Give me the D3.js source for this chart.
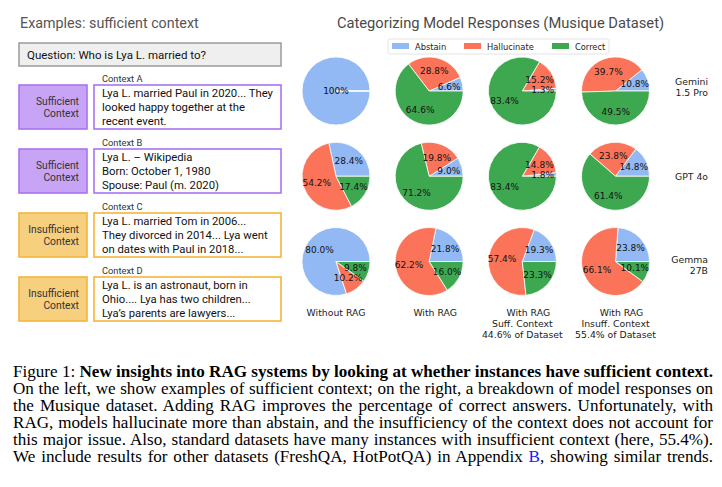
<!DOCTYPE html>
<meta charset="utf-8">
<script src="https://d3js.org/d3.v7.min.js"></script>
<style>
  body { margin: 0; background: #fff; }
</style>
<div id="my_dataviz"></div>
<script>

// pie data: [Abstain, Hallucinate, Correct] per column
var categories = ["Abstain", "Hallucinate", "Correct"];
var colors = ["#92b9f4", "#fb7459", "#3ea851"];
var columns = ["Without RAG", "With RAG", "With RAG\nSuff. Context\n44.6% of Dataset", "With RAG\nInsuff. Context\n55.4% of Dataset"];
var models = ["Gemini\n1.5 Pro", "GPT 4o", "Gemma\n27B"];

var gemini = [[100, 0, 0], [6.6, 28.8, 64.6], [1.3, 15.2, 83.4], [10.8, 39.7, 49.5]];
var gpt4o  = [[28.4, 54.2, 17.4], [9.0, 19.8, 71.2], [1.8, 14.8, 83.4], [14.8, 23.8, 61.4]];
var gemma  = [[80.0, 10.2, 9.8], [21.8, 62.2, 16.0], [19.3, 57.4, 23.3], [23.8, 66.1, 10.1]];
var seriesByModel = [gemini, gpt4o, gemma];

// left panel examples
var question = "Question: Who is Lya L. married to?";
var contextNames = ["Context A", "Context B", "Context C", "Context D"];
var contextKinds = ["Sufficient", "Sufficient", "Insufficient", "Insufficient"];
var contextLines = [
  ["Lya L. married Paul in 2020... They", "looked happy together at the", "recent event."],
  ["Lya L. \u2013 Wikipedia", "Born: October 1, 1980", "Spouse: Paul (m. 2020)"],
  ["Lya L. married Tom in 2006...", "They divorced in 2014... Lya went", "on dates with Paul in 2018..."],
  ["Lya L. is an astronaut, born in", "Ohio.... Lya has two children...", "Lya\u2019s parents are lawyers..."]
];

var captionLines = [
  [["Figure 1: ", false], ["New insights into RAG systems by looking at whether instances have sufficient context.", true]],
  [["On the left, we show examples of sufficient context; on the right, a breakdown of model responses on", false]],
  [["the Musique dataset. Adding RAG improves the percentage of correct answers. Unfortunately, with", false]],
  [["RAG, models hallucinate more than abstain, and the insufficiency of the context does not account for", false]],
  [["this major issue. Also, standard datasets have many instances with insufficient context (here, 55.4%).", false]],
  [["We include results for other datasets (FreshQA, HotPotQA) in Appendix ", false], ["B", false, "#1a1aff"], [", showing similar trends.", false]]
];

var W = 722, H = 487;
var svg = d3.select("#my_dataviz").append("svg")
  .attr("width", W).attr("height", H);

var sans = "Roboto, 'Open Sans', sans-serif";
var mpl = "'DejaVu Sans', sans-serif";

// ---------- left panel ----------
var left = svg.append("g");
left.append("text")
  .attr("x", 20).attr("y", 28)
  .style("font-family", sans).style("font-size", "14.3px").style("fill", "#555")
  .text("Examples: sufficient context");

left.append("rect")
  .attr("x", 19).attr("y", 43).attr("width", 262).attr("height", 23)
  .attr("fill", "#efefef").attr("stroke", "#9a9a9a").attr("stroke-width", 1.5);
left.append("text")
  .attr("x", 27).attr("y", 58.5)
  .style("font-family", sans).style("font-size", "11.5px").style("fill", "#111")
  .text(question);

var kindFill = { "Sufficient": "#c8a4f6", "Insufficient": "#f6cf7f" };
var kindStroke = { "Sufficient": "#a974f0", "Insufficient": "#f3b63a" };

var ctx = left.selectAll("g.ctx")
  .data(contextNames)
  .enter().append("g")
  .attr("class", "ctx")
  .attr("transform", function(d, i) { return "translate(0," + (85 + i * 64) + ")"; });

ctx.append("text")
  .attr("x", 102).attr("y", -3)
  .style("font-family", sans).style("font-size", "9.3px").style("fill", "#333")
  .text(function(d) { return d; });

ctx.append("rect")
  .attr("x", 19).attr("y", 0).attr("width", 68).attr("height", 44)
  .attr("fill", function(d, i) { return kindFill[contextKinds[i]]; })
  .attr("stroke", function(d, i) { return kindStroke[contextKinds[i]]; })
  .attr("stroke-width", 1.6);

ctx.append("text")
  .attr("text-anchor", "end")
  .style("font-family", sans).style("font-size", "10.3px").style("fill", "#333")
  .selectAll("tspan")
  .data(function(d, i) { return [contextKinds[i], "Context"]; })
  .enter().append("tspan")
  .attr("x", 79)
  .attr("y", function(d, j) { return 19.5 + j * 12; })
  .text(function(d) { return d; });

ctx.append("rect")
  .attr("x", 94).attr("y", 0).attr("width", 187).attr("height", 44)
  .attr("fill", "#fff")
  .attr("stroke", function(d, i) { return kindStroke[contextKinds[i]]; })
  .attr("stroke-width", 1.6);

ctx.append("text")
  .style("font-family", sans).style("font-size", "11.3px").style("fill", "#111")
  .selectAll("tspan")
  .data(function(d, i) { return contextLines[i]; })
  .enter().append("tspan")
  .attr("x", 102)
  .attr("y", function(d, j) { return 12 + j * 14; })
  .text(function(d) { return d; });

// ---------- right panel: pies ----------
var right = svg.append("g");

right.append("text")
  .attr("x", 500.5).attr("y", 28)
  .attr("text-anchor", "middle")
  .style("font-family", sans).style("font-size", "14.7px").style("fill", "#4a4a4a")
  .text("Categorizing Model Responses (Musique Dataset)");

// legend
var legend = right.append("g");
legend.append("rect")
  .attr("x", 388).attr("y", 39).attr("width", 221).attr("height", 15).attr("rx", 2)
  .attr("fill", "#fff").attr("stroke", "#dddddd").attr("stroke-width", 0.8);
var legendX = d3.scaleOrdinal().domain(categories).range([392, 464, 552]);
var li = legend.selectAll("g.li").data(categories).enter().append("g")
  .attr("transform", function(d) { return "translate(" + legendX(d) + ",0)"; });
li.append("rect")
  .attr("x", 0).attr("y", 43).attr("width", 17).attr("height", 6)
  .attr("fill", function(d, i) { return colors[i]; });
li.append("text")
  .attr("x", 23).attr("y", 49.5)
  .style("font-family", mpl).style("font-size", "8.3px").style("fill", "#222")
  .text(function(d) { return d; });

var x = d3.scalePoint().domain(d3.range(columns.length)).range([336, 615.5]);
var y = d3.scalePoint().domain(models).range([91, 261.5]);
var r = 34;

var pie = d3.pie()
  .sort(null)
  .value(function(d) { return d; })
  .startAngle(Math.PI / 2)
  .endAngle(Math.PI / 2 - 2 * Math.PI);
var arc = d3.arc().innerRadius(0).outerRadius(r);
var labelArc = d3.arc().innerRadius(0.6 * r).outerRadius(0.6 * r);

function fmt(v) { return v === 100 ? "100%" : v.toFixed(1) + "%"; }

models.forEach(function(m, mi) {
  seriesByModel[mi].forEach(function(vals, ci) {
    var g = right.append("g")
      .attr("transform", "translate(" + x(ci) + "," + y(m) + ")");
    var arcs = pie(vals);
    g.selectAll("path").data(arcs).enter().append("path")
      .attr("d", arc)
      .attr("fill", function(d, i) { return colors[i]; })
      .attr("stroke", "#fff").attr("stroke-width", 0.8);
    g.selectAll("text").data(arcs.filter(function(d) { return d.data > 0; }))
      .enter().append("text")
      .attr("transform", function(d) {
        var c = d.data === 100 ? [0, 0] : labelArc.centroid(d);
        return "translate(" + c[0] + "," + c[1] + ")";
      })
      .attr("text-anchor", "middle")
      .attr("dy", "0.36em")
      .style("font-family", mpl).style("font-size", "9px").style("fill", "#111")
      .text(function(d) { return fmt(d.data); });
  });
});

// model labels on the right
var modelLineY = { "Gemini\n1.5 Pro": [81.5, 92.5], "GPT 4o": [176.5], "Gemma\n27B": [259.5, 270.5] };
right.selectAll("text.model").data(models).enter().append("text")
  .attr("class", "model")
  .attr("text-anchor", "end")
  .style("font-family", mpl).style("font-size", "9.3px").style("fill", "#222")
  .each(function(m) {
    d3.select(this).selectAll("tspan").data(m.split("\n")).enter().append("tspan")
      .attr("x", 708)
      .attr("y", function(d, j) { return modelLineY[m][j]; })
      .attr("dy", "0.36em")
      .text(function(d) { return d; });
  });

// column labels at the bottom
right.selectAll("text.col").data(columns).enter().append("text")
  .attr("class", "col")
  .attr("text-anchor", "middle")
  .style("font-family", mpl).style("font-size", "9.3px").style("fill", "#222")
  .each(function(c, ci) {
    d3.select(this).selectAll("tspan").data(c.split("\n")).enter().append("tspan")
      .attr("x", function(d) { return x(ci) + (d === "With RAG" ? 6 : 0); })
      .attr("y", function(d, j) { return 313 + j * 11; })
      .attr("dy", "0.36em")
      .text(function(d) { return d; });
  });

// ---------- caption ----------
var capLeft = 13, capWidth = 700;
var cap = svg.append("g")
  .style("font-family", "'Liberation Serif', 'Times New Roman', serif")
  .style("fill", "#000");

var capText = cap.selectAll("text").data(captionLines).enter().append("text")
  .attr("x", capLeft)
  .attr("y", function(d, i) { return 377 + i * 17; })
  .style("font-size", "15px");
capText.selectAll("tspan").data(function(d) { return d; }).enter().append("tspan")
  .style("font-weight", function(d) { return d[1] ? "bold" : "normal"; })
  .style("fill", function(d) { return d[2] || "#000"; })
  .text(function(d) { return d[0]; });

// fit font size to the text width, then justify each line with word spacing
var widths = [];
capText.each(function(d, i) { if (i > 0 && i < 5) widths.push(this.getComputedTextLength()); });
var fs = 15 * capWidth / d3.mean(widths) * 0.985;
capText.style("font-size", fs + "px");
capText.each(function(d) {
  var w = this.getComputedTextLength();
  var spaces = d.map(function(p) { return p[0]; }).join("").split(" ").length - 1;
  d3.select(this).style("word-spacing", ((capWidth - w) / spaces) + "px");
});

</script>
</body>
</html>
